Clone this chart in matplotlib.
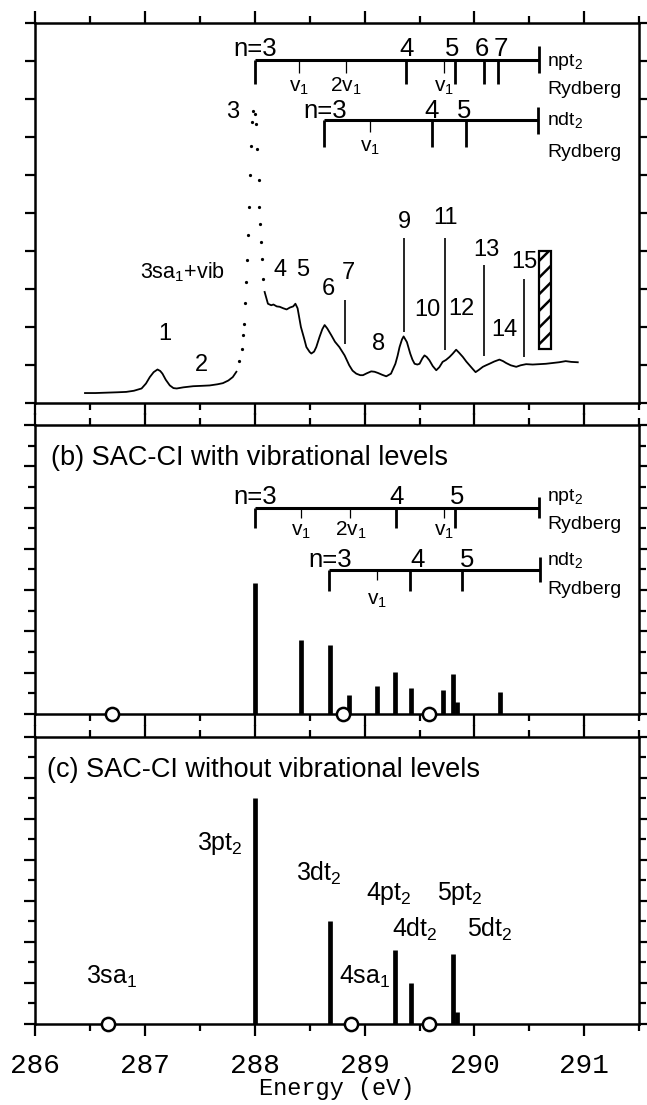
import matplotlib
matplotlib.use('Agg')
import matplotlib.pyplot as plt
from matplotlib.patches import Rectangle
from matplotlib.ticker import MultipleLocator

plt.rcParams['font.family'] = ['Liberation Sans', 'DejaVu Sans']
plt.rcParams['mathtext.fontset'] = 'custom'
plt.rcParams['mathtext.rm'] = 'Liberation Sans'
plt.rcParams['mathtext.it'] = 'Liberation Sans:italic'
plt.rcParams['mathtext.bf'] = 'Liberation Sans:bold'
plt.rcParams['hatch.linewidth'] = 1.8

# ---------------- data ----------------
# (a) experimental spectrum (arbitrary units)
spec_low_E = [286.455, 286.55, 286.65, 286.75, 286.83, 286.90, 286.97, 287.01, 287.045,
              287.08, 287.115, 287.14, 287.16, 287.19, 287.227, 287.26, 287.29, 287.35,
              287.44, 287.52, 287.59, 287.66, 287.71, 287.76, 287.80, 287.833]
spec_low_I = [0.27, 0.27, 0.28, 0.29, 0.30, 0.33, 0.39, 0.52, 0.69,
              0.82, 0.89, 0.85, 0.78, 0.62, 0.47, 0.40, 0.39, 0.42,
              0.45, 0.46, 0.47, 0.50, 0.53, 0.60, 0.69, 0.83]
spec_peak_E = [287.858, 287.88, 287.894, 287.903, 287.912, 287.924, 287.933, 287.939,
               287.945, 287.955, 287.964, 287.976, 287.985, 288.0, 288.015, 288.021,
               288.036, 288.039, 288.045, 288.054, 288.063, 288.076]
spec_peak_I = [1.12, 1.44, 1.79, 2.10, 2.63, 3.19, 3.76, 4.42,
               5.17, 6.00, 6.76, 7.40, 7.69, 7.62, 7.36, 6.70,
               5.87, 5.17, 4.73, 4.24, 3.81, 3.28]
spec_high_E = [288.09, 288.12, 288.15, 288.17, 288.20, 288.227, 288.26, 288.29, 288.32,
               288.35, 288.37, 288.39, 288.42, 288.45, 288.47, 288.50, 288.515, 288.54,
               288.56, 288.59, 288.615, 288.636, 288.66, 288.697, 288.73, 288.77, 288.818,
               288.86, 288.89, 288.924, 288.96, 288.985, 289.02, 289.06, 289.09, 289.12,
               289.16, 289.197, 289.24, 289.28, 289.30, 289.318, 289.34, 289.355, 289.385,
               289.415, 289.435, 289.455, 289.48, 289.50, 289.525, 289.545, 289.565, 289.59,
               289.62, 289.652, 289.68, 289.71, 289.74, 289.773, 289.80, 289.833, 289.86,
               289.894, 289.925, 289.955, 289.985, 290.01, 290.04, 290.076, 290.105, 290.136,
               290.18, 290.227, 290.26, 290.288, 290.33, 290.38, 290.42, 290.47, 290.53,
               290.59, 290.65, 290.71, 290.77, 290.83, 290.88, 290.94]
spec_high_I = [2.93, 2.62, 2.58, 2.60, 2.55, 2.54, 2.50, 2.47, 2.52,
               2.55, 2.62, 2.50, 2.01, 1.70, 1.48, 1.35, 1.31, 1.36,
               1.48, 1.75, 1.95, 2.06, 1.97, 1.79, 1.62, 1.48, 1.26,
               1.00, 0.86, 0.78, 0.74, 0.74, 0.79, 0.84, 0.83, 0.80,
               0.75, 0.71, 0.78, 1.04, 1.25, 1.48, 1.68, 1.76, 1.61,
               1.31, 1.15, 1.04, 1.02, 1.04, 1.18, 1.26, 1.22, 1.13,
               0.98, 0.87, 0.95, 1.09, 1.14, 1.22, 1.30, 1.41, 1.33,
               1.22, 1.10, 1.00, 0.90, 0.82, 0.88, 0.96, 1.00, 1.04,
               1.10, 1.15, 1.11, 1.06, 1.00, 0.96, 1.00, 1.03, 1.02,
               1.03, 1.04, 1.06, 1.08, 1.11, 1.09, 1.08]

peak_labels = ['1', '2', '3', '4', '5', '6', '7', '8', '9', '10', '11', '12', '13', '14', '15']
peak_label_E = [287.18, 287.515, 287.80, 288.227, 288.44, 288.667, 288.85, 289.13, 289.36,
                289.575, 289.74, 289.88, 290.105, 290.27, 290.45]
peak_label_I = [1.83, 1.00, 7.67, 3.50, 3.50, 3.02, 3.42, 1.57, 4.78,
                2.45, 4.87, 2.49, 4.03, 1.92, 3.72]
mark_E = [288.82, 289.36, 289.73, 290.09, 290.45]
mark_lo = [1.57, 1.87, 1.41, 1.24, 1.21]
mark_hi = [2.71, 4.34, 4.34, 3.63, 3.28]
ip_E = [290.585, 290.70]
ip_I = [1.42, 4.00]

# Rydberg ladders (level energies, label positions, vibrational marks, series limit)
lvl_lab3 = ['n=3', '4', '5']
lvl_lab5 = ['n=3', '4', '5', '6', '7']
vib_lab_p = [r'v$_1$', r'2v$_1$', r'v$_1$']
vib_lab_d = [r'v$_1$']
npt_a_E = [288.0, 289.38, 289.82, 290.09, 290.21]
npt_a_labE = [288.0, 289.38, 289.80, 290.07, 290.24]
npt_a_vib = [288.40, 288.83, 289.72]
npt_a_lim = 290.59
ndt_a_E = [288.63, 289.61, 289.92]
ndt_a_labE = [288.64, 289.61, 289.91]
ndt_a_vib = [289.05]
ndt_a_lim = 290.575
npt_b_E = [288.0, 289.29, 289.82]
npt_b_labE = [288.0, 289.29, 289.84]
npt_b_vib = [288.42, 288.87, 289.72]
npt_b_lim = 290.59
ndt_b_E = [288.68, 289.41, 289.89]
ndt_b_labE = [288.69, 289.48, 289.93]
ndt_b_vib = [289.11]
ndt_b_lim = 290.60

# (b) SAC-CI with vibrational levels
vib_bar_E = [288.0, 288.42, 288.685, 288.855, 289.11, 289.275, 289.42, 289.71, 289.80, 289.84, 290.235]
vib_bar_I = [6.34, 3.56, 3.35, 0.89, 1.33, 2.02, 1.26, 1.13, 1.91, 0.57, 1.05]
vib_sa_E = [286.70, 288.80, 289.59]

# (c) SAC-CI without vibrational levels
nov_bar_E = [288.0, 288.686, 289.28, 289.42, 289.80, 289.843]
nov_bar_I = [10.99, 5.02, 3.60, 2.01, 3.39, 0.60]
nov_sa_E = [286.665, 288.88, 289.59]
nov_labels = [r'3sa$_1$', r'3pt$_2$', r'3dt$_2$', r'4pt$_2$', r'4dt$_2$', r'5pt$_2$', r'5dt$_2$', r'4sa$_1$']
nov_label_E = [286.695, 287.68, 288.58, 289.22, 289.46, 289.87, 290.14, 289.0]
nov_label_I = [2.3, 8.8, 7.34, 6.36, 4.61, 6.36, 4.61, 2.3]

xticks = [286, 287, 288, 289, 290, 291]

# ---------------- figure ----------------
W, H = 647, 1105
fig = plt.figure(figsize=(W / 100, H / 100), dpi=100)
x0, x1 = 35 / W, 639.3 / W


def add_ax(top, bot):
    return fig.add_axes([x0, 1 - bot / H, x1 - x0, (bot - top) / H])


axa = add_ax(23.3, 403.3)
axb = add_ax(425, 713.8)
axc = add_ax(736.7, 1024)

for ax in (axa, axb, axc):
    ax.set_xlim(286, 291.5)
    for s in ax.spines.values():
        s.set_linewidth(1.8)
    ax.xaxis.set_major_locator(MultipleLocator(1))
    ax.xaxis.set_minor_locator(MultipleLocator(0.5))
    ax.tick_params(axis='x', which='both', direction='out', top=True, bottom=True, width=1.6)
    ax.tick_params(axis='x', which='major', length=8.6)
    ax.tick_params(axis='x', which='minor', length=5)
    ax.tick_params(axis='y', which='both', direction='out', left=True, right=True, width=1.6,
                   labelleft=False)
    ax.tick_params(axis='y', which='major', length=8)
    ax.tick_params(axis='y', which='minor', length=5)

for ax in (axa, axb):
    ax.tick_params(axis='x', labelbottom=False)

axa.set_ylim(0, 10)
axa.yaxis.set_major_locator(MultipleLocator(1))
axa.tick_params(axis='y', which='major', length=7)
for ax in (axb, axc):
    ax.set_ylim(0, 14)
    ax.yaxis.set_major_locator(MultipleLocator(2))
    ax.yaxis.set_minor_locator(MultipleLocator(1))

axc.set_xticks(xticks)
axc.set_xticklabels([str(t) for t in xticks])
axc.tick_params(axis='x', labelsize=20, pad=12)
for lab in axc.get_xticklabels():
    lab.set_family(['Liberation Mono', 'DejaVu Sans Mono'])
axc.set_xlabel('Energy (eV)', family=['Liberation Mono', 'DejaVu Sans Mono'], fontsize=17, labelpad=-1)


def ladder(ax, y, levels, lab_E, labels, vib, vlabels, lim, long_, short, cap, lab_dy, vib_dy,
           name, name_y, ryd_y):
    ax.plot([levels[0], lim], [y, y], color='k', lw=2.2, solid_capstyle='butt')
    ax.vlines(levels, y - long_, y, color='k', lw=2.0)
    ax.vlines(vib, y - short, y, color='k', lw=0.9)
    ax.vlines([lim], y - cap, y + cap, color='k', lw=2.0)
    for e, t in zip(lab_E, labels):
        ax.text(e, y + lab_dy, t, ha='center', va='baseline', fontsize=18.5)
    for e, t in zip(vib, vlabels):
        ax.text(e, y - vib_dy, t, ha='center', va='baseline', fontsize=15)
    ax.text(290.66, name_y, name, ha='left', va='center', fontsize=14)
    ax.text(290.66, ryd_y, 'Rydberg', ha='left', va='center', fontsize=14)


# ---- panel (a)
axa.plot(spec_low_E, spec_low_I, color='k', lw=1.3)
axa.plot(spec_high_E, spec_high_I, color='k', lw=1.3)
axa.plot(spec_peak_E, spec_peak_I, linestyle='none', marker='o', ms=1.3, color='k')
for t, e, v in zip(peak_labels, peak_label_E, peak_label_I):
    axa.text(e, v, t, ha='center', va='center', fontsize=17)
axa.vlines(mark_E, mark_lo, mark_hi, color='k', lw=1.2)
axa.add_patch(Rectangle((ip_E[0], ip_I[0]), ip_E[1] - ip_E[0], ip_I[1] - ip_I[0],
                        facecolor='white', edgecolor='k', lw=1.6, hatch='//'))
axa.text(287.345, 3.46, r'3sa$_1$+vib', ha='center', va='center', fontsize=15.5)
ladder(axa, 9.04, npt_a_E, npt_a_labE, lvl_lab5, npt_a_vib, vib_lab_p, npt_a_lim, 0.64, 0.36, 0.35,
       0.11, 0.84, r'npt$_2$', 8.98, 8.26)
ladder(axa, 7.45, ndt_a_E, ndt_a_labE, lvl_lab3, ndt_a_vib, vib_lab_d, ndt_a_lim, 0.71, 0.31, 0.36,
       0.07, 0.84, r'ndt$_2$', 7.45, 6.6)

# ---- panel (b)
axb.vlines(vib_bar_E, 0, vib_bar_I, color='k', lw=3.4)
axb.plot(vib_sa_E, [0] * len(vib_sa_E), linestyle='none', marker='o', ms=9.5, mfc='white',
         mec='k', mew=1.8, clip_on=False, zorder=5)
axb.text(286.15, 12.38, '(b) SAC-CI with vibrational levels', ha='left', va='center', fontsize=19.5)
ladder(axb, 10.0, npt_b_E, npt_b_labE, lvl_lab3, npt_b_vib, vib_lab_p, npt_b_lim, 0.97, 0.53, 0.52,
       0.15, 1.37, r'npt$_2$', 10.52, 9.19)
ladder(axb, 6.99, ndt_b_E, ndt_b_labE, lvl_lab3, ndt_b_vib, vib_lab_d, ndt_b_lim, 1.04, 0.52, 0.6,
       0.15, 1.7, r'ndt$_2$', 7.44, 6.02)

# ---- panel (c)
axc.vlines(nov_bar_E, 0, nov_bar_I, color='k', lw=3.4)
axc.plot(nov_sa_E, [0] * len(nov_sa_E), linestyle='none', marker='o', ms=9.5, mfc='white',
         mec='k', mew=1.8, clip_on=False, zorder=5)
axc.text(286.11, 12.4, '(c) SAC-CI without vibrational levels', ha='left', va='center', fontsize=19.5)
for t, e, v in zip(nov_labels, nov_label_E, nov_label_I):
    axc.text(e, v, t, ha='center', va='center', fontsize=18)

fig.savefig('out.png', dpi=100)
